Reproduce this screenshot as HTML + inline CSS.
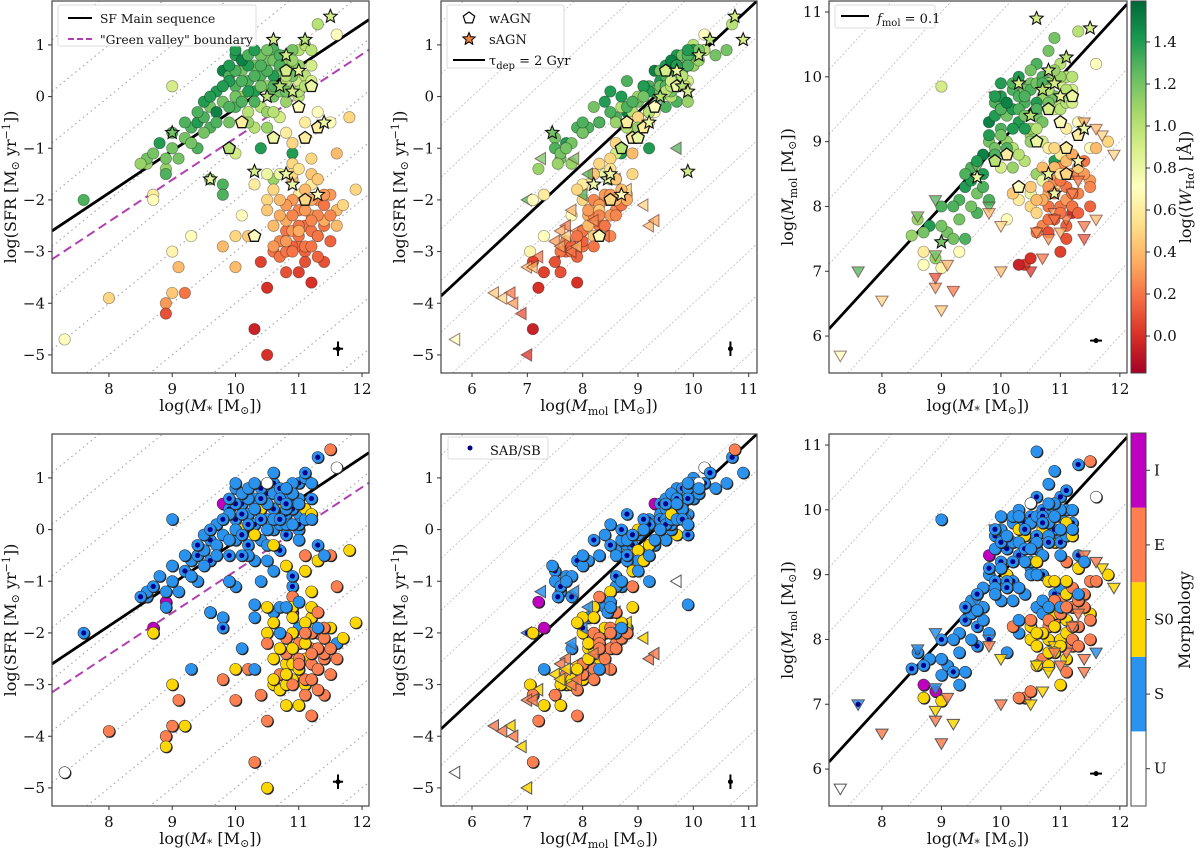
<!DOCTYPE html>
<html><head><meta charset="utf-8"><style>
html,body{margin:0;padding:0;background:#fff;width:1200px;height:849px;overflow:hidden;}
svg{display:block;font-family:"DejaVu Serif","Liberation Serif",serif;overflow:hidden;}
</style></head><body>
<svg id="fig" width="1200" height="849" viewBox="0 0 1200 849"></svg>
<script>
// galaxy sample: [logMstar, logSFR, logMmol, logEW, morph(0U,1S,2S0,3E,4I), type(0 det,1 upper-limit,2 wAGN,3 sAGN), barred]
const galaxies = [
[9.0,-0.7,8.0,1.3,1,0,1],[9.1,-1.2,7.6,1.2,1,0,0],[8.6,-1.3,7.8,1.1,1,0,1],[8.8,-0.9,7.7,1.4,1,0,0],[9.2,-0.8,7.5,1.2,1,0,1],
[9.3,-0.6,8.1,1.3,1,0,0],[9.4,-0.5,8.3,1.4,1,0,1],[9.5,-0.4,8.6,1.3,1,0,0],[9.6,-0.2,8.2,1.2,1,0,1],[9.7,-0.3,8.8,1.5,1,0,0],
[9.8,0.5,9.3,1.5,4,0,0],[9.9,0.4,9.6,1.3,1,0,1],[9.8,-0.1,9.0,1.2,1,0,0],[10.0,0.2,9.2,1.3,1,0,1],[10.0,0.8,9.7,1.4,1,0,0],
[10.1,0.0,9.0,1.1,2,0,0],[10.1,0.5,9.4,1.2,1,0,1],[10.2,0.3,9.8,1.3,1,0,0],[10.2,-0.3,8.9,1.0,1,0,1],[10.3,0.6,9.9,1.2,1,0,0],
[10.3,0.1,9.3,1.4,1,0,1],[10.4,0.4,9.6,1.3,2,0,0],[10.4,-0.2,8.7,1.0,1,0,0],[10.5,0.7,9.9,1.2,1,0,1],[10.5,0.2,9.1,1.1,1,0,0],
[10.6,0.9,10.2,1.3,1,0,1],[10.6,0.0,9.4,1.2,1,0,0],[10.7,0.5,9.7,1.1,2,0,0],[10.7,-0.4,9.0,0.9,1,0,1],[10.8,0.8,10.4,1.2,1,0,0],
[10.8,0.3,9.8,1.0,1,0,1],[10.9,0.6,10.0,1.1,1,0,0],[10.9,0.1,9.5,0.9,2,0,0],[11.0,0.9,10.2,1.0,1,0,1],[11.0,0.3,9.9,0.9,1,0,0],
[11.1,1.0,10.0,1.0,1,0,0],[11.2,0.6,9.8,0.9,1,0,1],[11.3,1.4,10.7,1.0,1,0,1],[9.5,-0.1,8.4,1.4,1,0,0],[9.6,-0.6,7.9,1.3,1,0,1],
[9.7,0.1,8.5,1.4,1,0,0],[9.9,-0.5,8.9,1.2,1,0,1],[10.0,-0.2,9.5,1.3,1,0,0],[10.1,0.3,8.8,1.3,1,0,1],[10.2,0.6,9.5,1.4,1,0,0],
[10.3,-0.1,9.7,1.3,2,0,0],[10.4,0.8,9.8,1.2,1,0,1],[10.5,-0.3,9.2,1.1,1,0,0],[10.6,0.4,9.6,1.4,1,0,1],[10.7,0.1,9.3,1.2,1,0,0],
[10.8,-0.1,9.9,1.1,1,0,1],[10.9,0.9,10.6,1.2,1,0,0],[11.0,0.0,9.6,1.0,1,0,0],[9.0,0.2,9.85,0.9,1,0,0],[9.4,-1.0,7.5,1.3,1,0,0],
[8.9,-1.4,7.2,1.1,4,0,0],[7.6,-2.0,7.0,1.3,1,1,1],[9.8,-1.7,8.1,1.3,1,0,0],[10.4,-1.0,9.2,1.4,1,0,0],[10.9,-1.1,8.7,1.4,1,0,1],
[10.6,-1.6,8.5,1.1,1,0,0],[10.0,-1.1,8.6,0.9,1,0,0],[10.5,-1.5,8.2,0.8,2,0,0],[10.7,-1.5,8.4,0.8,1,0,0],[10.8,-0.7,8.9,0.6,2,0,0],
[10.9,-0.9,8.6,0.5,1,0,1],[11.1,-0.5,9.2,0.6,3,0,0],[11.2,-1.2,8.5,0.5,2,0,0],[11.0,-1.9,8.8,0.6,1,0,0],[11.3,-0.3,9.3,0.7,1,0,1],
[11.5,-0.5,8.9,0.7,3,0,0],[11.6,1.2,10.2,0.7,0,0,0],[11.8,-0.4,9.0,0.5,2,0,0],[10.3,-1.7,8.1,0.6,1,0,0],[10.1,-2.3,7.8,0.7,1,0,0],
[9.3,-2.7,7.3,0.7,1,0,0],[9.0,-3.0,7.05,0.65,2,0,0],[8.7,-1.9,7.3,0.6,4,0,0],[8.7,-2.0,7.1,0.7,2,0,0],[7.3,-4.7,5.7,0.7,0,1,0],
[10.5,-2.0,8.0,0.5,2,0,0],[10.9,-1.3,8.3,0.5,3,0,0],[11.2,-1.7,8.0,0.6,2,0,0],[10.9,-2.0,8.4,0.3,2,0,0],[11.0,-2.2,8.6,0.25,3,0,0],
[11.1,-2.5,8.3,0.2,2,0,0],[11.2,-2.3,8.5,0.3,3,0,0],[11.3,-2.0,8.2,0.25,3,0,0],[11.4,-2.1,8.7,0.2,3,0,0],[11.5,-1.9,8.4,0.3,2,0,0],
[10.8,-2.6,8.0,0.2,2,0,0],[10.7,-2.8,7.7,0.25,3,0,0],[11.0,-2.9,8.0,0.2,2,0,0],[11.1,-3.0,7.7,0.15,2,0,0],[10.6,-3.0,7.6,0.2,2,0,0],
[10.7,-3.1,7.2,0.2,2,1,0],[11.3,-2.7,8.5,0.25,3,0,0],[11.5,-2.8,8.0,0.15,3,0,0],[11.4,-3.2,7.5,0.1,3,1,0],[11.0,-3.4,7.3,0.05,2,0,0],
[10.4,-3.2,7.1,0.05,3,0,0],[10.5,-3.7,7.2,0.0,3,0,0],[11.2,-3.6,7.9,0.0,3,0,0],[10.9,-1.6,8.6,0.4,3,0,0],[11.2,-1.5,8.2,0.45,2,0,0],
[11.6,-1.1,8.9,0.4,3,0,0],[10.8,-2.4,8.2,0.35,3,0,0],[10.2,-2.7,8.2,0.45,3,0,0],[10.0,-3.3,7.0,0.4,3,1,0],[10.3,-4.5,7.1,-0.05,3,0,0],
[10.5,-5.0,7.0,0.0,2,1,0],[9.2,-3.8,6.7,0.2,2,1,0],[8.9,-4.0,6.75,0.3,3,1,0],[8.9,-4.2,6.9,0.1,2,1,0],[9.0,-3.8,6.4,0.45,3,1,0],
[9.1,-3.3,7.1,0.4,3,1,0],[8.0,-3.9,6.55,0.5,3,1,0],[11.4,-2.5,7.7,0.2,3,1,0],[11.6,-2.2,7.8,0.4,1,1,0],[11.9,-1.8,8.8,0.5,2,1,0],
[11.7,-2.1,9.1,0.5,2,1,0],[11.6,-2.5,9.2,0.4,3,1,0],[11.4,-2.4,9.3,0.35,3,1,0],[10.9,-2.6,7.9,0.3,2,1,0],[11.1,-2.9,7.8,0.2,3,1,0],
[9.9,-1.0,9.7,1.3,0,1,0],[8.9,-1.5,8.1,1.3,1,1,0],[8.6,-1.2,7.85,1.2,1,1,0],[8.9,-1.2,7.25,1.2,1,1,0],[9.6,-1.6,8.6,1.2,1,1,0],
[9.8,-1.9,8.0,1.3,1,1,1],[10.3,-2.7,8.3,0.7,1,2,0],[10.8,0.5,9.5,0.9,1,2,1],[11.1,-0.8,8.9,0.6,2,2,0],[11.0,-0.2,9.3,0.7,1,2,0],
[11.1,-2.0,8.5,0.5,3,2,0],[10.6,-0.8,9.0,0.8,1,2,0],[10.1,-0.5,8.8,0.6,1,2,1],[11.3,-0.6,9.1,0.6,2,2,0],[9.9,-1.0,8.7,1.0,1,2,0],
[11.2,0.2,9.7,0.8,1,2,0],[11.5,1.55,10.75,0.9,3,3,0],[10.6,1.1,10.9,0.9,1,3,0],[9.6,-1.6,8.45,0.8,1,3,0],[10.3,-1.45,9.9,0.9,1,3,0],
[10.8,-1.5,8.5,0.8,1,3,0],[10.9,-1.7,8.2,0.8,2,3,0],[11.3,-1.9,8.7,0.7,1,3,0],[11.1,1.1,10.3,1.0,1,3,1],[10.5,0.0,9.4,1.0,1,3,0],
[10.8,0.8,10.1,0.9,1,3,0],[11.0,0.5,9.7,0.8,1,3,0],[10.7,0.2,9.8,1.0,1,3,1],[9.0,-0.7,7.45,1.2,1,3,0],[11.4,-0.5,9.2,0.8,1,3,0],
[10.9,0.1,9.9,0.9,1,3,0],
[9.9,0.3,9.4,1.4,1,0,0],[10.0,0.5,9.5,1.3,1,0,1],[10.1,0.7,9.6,1.5,1,0,0],[10.2,0.1,9.2,1.4,1,0,1],[10.3,0.4,9.5,1.3,1,0,0],
[10.4,0.2,9.4,1.2,1,0,1],[10.5,0.5,9.8,1.3,1,0,0],[10.6,0.7,9.9,1.2,1,0,0],[10.7,0.8,10.0,1.3,1,0,1],[10.8,0.6,9.9,1.1,1,0,0],
[10.9,0.4,9.7,1.2,1,0,1],[11.0,0.6,10.0,1.1,1,0,0],[11.1,0.4,9.8,1.0,2,0,0],[11.2,0.9,10.0,1.0,1,0,0],[9.6,0.0,8.7,1.4,1,0,1],
[9.7,-0.5,8.3,1.3,1,0,0],[9.8,0.2,9.1,1.4,1,0,1],[9.9,-0.2,8.8,1.3,1,0,0],[10.0,0.0,9.1,1.2,1,0,0],[10.1,-0.1,8.9,1.3,1,0,1],
[10.2,0.8,9.9,1.3,1,0,0],[10.3,0.9,10.0,1.4,1,0,0],[10.4,0.6,9.7,1.3,1,0,1],[10.5,0.9,10.1,1.2,0,0,0],[10.6,0.2,9.5,1.3,1,0,0],
[10.7,0.6,9.9,1.3,1,0,1],[10.8,0.1,9.6,1.2,1,0,0],[10.9,0.7,10.1,1.1,1,0,0],[11.0,0.1,9.5,1.0,1,0,1],[11.1,0.2,9.6,1.0,1,0,0],
[9.3,-0.9,7.8,1.2,1,0,0],[9.4,-0.3,8.5,1.3,1,0,1],[9.5,-0.7,8.0,1.2,1,0,0],[9.2,-0.5,8.0,1.3,1,0,0],[8.7,-1.1,7.6,1.2,1,0,1],
[9.0,-1.0,7.7,1.2,1,0,0],[8.5,-1.3,7.55,1.1,1,0,1],[10.5,-0.6,9.0,1.1,1,0,0],[10.6,-0.3,9.2,1.0,2,0,0],[10.3,-0.6,8.8,1.0,1,0,0],
[9.9,0.6,9.7,1.4,1,0,1],[10.0,0.9,9.9,1.4,1,0,0],[10.2,-0.5,8.6,1.1,1,0,0],[10.8,0.4,9.8,1.0,1,0,0],[11.2,0.3,9.6,0.9,2,0,0],
[10.7,-2.3,8.1,0.35,2,0,0],[10.8,-2.1,8.3,0.3,3,0,0],[10.9,-2.3,8.2,0.25,2,0,0],[11.0,-2.5,8.4,0.2,3,0,0],[11.1,-2.2,8.1,0.3,2,0,0],
[11.2,-2.6,8.0,0.2,3,0,0],[11.3,-2.3,8.6,0.25,3,0,0],[11.4,-1.9,8.5,0.3,3,0,0],[11.0,-2.7,7.9,0.2,2,0,0],[10.9,-2.9,7.8,0.15,2,0,0],
[10.8,-3.0,7.8,0.2,2,0,0],[11.2,-2.9,8.2,0.2,3,0,0],[11.3,-3.1,7.9,0.15,3,0,0],[10.6,-2.5,8.1,0.4,2,0,0],[10.5,-2.2,8.3,0.45,3,0,0],
[11.1,-1.8,8.7,0.4,2,0,0],[10.9,-1.5,8.9,0.5,2,0,0],[11.0,-1.4,8.5,0.55,1,0,0],[11.3,-1.6,8.6,0.45,3,0,0],[10.7,-2.0,8.6,0.4,1,0,0],
[11.2,-2.0,8.8,0.35,3,0,0],[10.6,-1.8,7.9,0.5,2,0,0],[11.5,-2.3,8.3,0.25,3,0,0],[11.1,-3.2,7.5,0.1,3,0,0],[10.8,-3.4,7.6,0.1,2,0,0],
[10.8,-2.8,7.5,0.3,2,1,0],[11.0,-2.6,7.6,0.35,3,1,0],[11.2,-2.4,8.2,0.25,3,1,0],[10.6,-2.9,7.6,0.3,2,1,0],[10.9,-3.0,7.8,0.2,3,1,0],
[10.0,-2.7,7.7,0.5,2,1,0],[9.8,-2.9,7.9,0.4,3,1,0],[11.3,-2.7,8.4,0.2,3,1,0]
];
const xTicksMstar = [8,9,10,11,12];
const xTicksMmol = [6,7,8,9,10,11];
const yTicksSFR = [-5,-4,-3,-2,-1,0,1];
const yTicksMmol = [6,7,8,9,10,11];
const cbTicksEW = [0.0,0.2,0.4,0.6,0.8,1.0,1.2,1.4];
const morphNames = ['U','S','S0','E','I'];
const morphColors = ['#ffffff','#2a93f0','#ffd700','#ff7f50','#c000c0'];

const NS='http://www.w3.org/2000/svg';
const svg=document.getElementById('fig');
function el(tag,attrs,parent){const e=document.createElementNS(NS,tag);for(const k in attrs)e.setAttribute(k,attrs[k]);(parent||svg).appendChild(e);return e;}

const cm=[[0,[165,0,38]],[0.1,[215,48,39]],[0.2,[244,109,67]],[0.3,[253,174,97]],[0.4,[254,224,139]],[0.5,[255,255,191]],[0.6,[217,239,139]],[0.7,[166,217,106]],[0.8,[102,189,99]],[0.9,[26,152,80]],[1,[0,104,55]]];
const EWMIN=-0.176,EWMAX=1.595;
function rdylgn(v){let t=(v-EWMIN)/(EWMAX-EWMIN);t=Math.max(0,Math.min(1,t));for(let i=1;i<cm.length;i++){if(t<=cm[i][0]){const a=cm[i-1],b=cm[i];const f=(t-a[0])/(b[0]-a[0]);const c=a[1].map((q,j)=>Math.round(q+(b[1][j]-q)*f));return 'rgb('+c.join(',')+')';}}return 'rgb(0,104,55)';}

function makePanel(name,px0,px1,py0,py1,xmin,xmax,ymin,ymax){
  const g=el('g',{});
  
  
  const sx=v=>px0+(v-xmin)/(xmax-xmin)*(px1-px0);
  const sy=v=>py1-(v-ymin)/(ymax-ymin)*(py1-py0);
  const cid='clip-'+name;
  const cp=el('clipPath',{id:cid},g);el('rect',{x:px0,y:py0,width:px1-px0,height:py1-py0},cp);
  const plot=el('g',{'clip-path':'url(#'+cid+')'},g);
  return {g,plot,sx,sy,px0,px1,py0,py1,xmin,xmax,ymin,ymax};
}
function diagLines(P,dotted){
  for(let c=Math.floor(P.ymin-P.xmax)-1;c<=Math.ceil(P.ymax-P.xmin)+1;c++){
    const l=el('line',{x1:P.sx(P.xmin),y1:P.sy(P.xmin+c),x2:P.sx(P.xmax),y2:P.sy(P.xmax+c),stroke:dotted?'#aaa':'#bbb','stroke-width':dotted?1.2:0.8,'stroke-dasharray':dotted?'1.5,3.5':'2,2'},P.plot);
    
    
  }
}
function axes(P,xt,yt,xlabel,ylabel,ylx){
  const f=el('rect',{x:P.px0,y:P.py0,width:P.px1-P.px0,height:P.py1-P.py0,fill:'none',stroke:'#444','stroke-width':1.2},P.g);
  
  xt.forEach(v=>{const x=P.sx(v);el('line',{x1:x,x2:x,y1:P.py1,y2:P.py1+4,stroke:'#333'},P.g);
    const t=el('text',{x:x,y:P.py1+21,'text-anchor':'middle','font-size':15,fill:'#111'},P.g);t.textContent=v;
    });
  yt.forEach(v=>{const y=P.sy(v);el('line',{x1:P.px0-4,x2:P.px0,y1:y,y2:y,stroke:'#333'},P.g);
    const t=el('text',{x:P.px0-7,y:y+5,'text-anchor':'end','font-size':15,fill:'#111'},P.g);t.textContent=v<0?'\u2212'+(-v):v;
    });
  const xl=el('text',{x:(P.px0+P.px1)/2,y:P.py1+38,'text-anchor':'middle','font-size':16,fill:'#111'},P.g);xl.innerHTML=xlabel;
  
  const cy=(P.py0+P.py1)/2;
  const yl=el('text',{x:ylx,y:cy,'text-anchor':'middle','font-size':16,fill:'#111',transform:'rotate(-90 '+ylx+' '+cy+')'},P.g);yl.innerHTML=ylabel;
  
}
function pentagon(cx,cy,r){let p=[];for(let i=0;i<5;i++){const a=-Math.PI/2+i*2*Math.PI/5;p.push((cx+r*Math.cos(a)).toFixed(1)+','+(cy+r*Math.sin(a)).toFixed(1));}return p.join(' ');}
function star(cx,cy,r){let p=[];for(let i=0;i<10;i++){const a=-Math.PI/2+i*Math.PI/5;const rr=i%2?r*0.45:r;p.push((cx+rr*Math.cos(a)).toFixed(1)+','+(cy+rr*Math.sin(a)).toFixed(1));}return p.join(' ');}
function tri(cx,cy,r,dir){if(dir==='down')return (cx-r)+','+(cy-r*0.7)+' '+(cx+r)+','+(cy-r*0.7)+' '+cx+','+(cy+r);
  return (cx+r*0.7)+','+(cy-r)+' '+(cx+r*0.7)+','+(cy+r)+' '+(cx-r)+','+cy;}

function drawPoints(P,xi,yi,mode,ulDir,showUL){
  const order=galaxies.slice().sort((a,b)=>(a[5]>=2)-(b[5]>=2));
  order.forEach(d=>{
    const x=P.sx(d[xi]),y=P.sy(d[yi]);
    const col=mode==='ew'?rdylgn(d[3]):morphColors[d[4]];
    let m;
    const isUL=d[5]===1&&showUL;
    if(isUL){
      m=el('polygon',{points:tri(x,y,6.2,ulDir),fill:col,stroke:mode==='ew'?'rgba(90,40,40,0.6)':'#555','stroke-width':1,'fill-opacity':mode==='ew'?0.75:0.85},P.plot);
      
    } else if(mode==='ew'&&d[5]===2){
      m=el('polygon',{points:pentagon(x,y,6.5),fill:col,stroke:'#111','stroke-width':1.3},P.plot);
      
    } else if(mode==='ew'&&d[5]===3){
      m=el('polygon',{points:star(x,y,7),fill:col,stroke:'#111','stroke-width':1.1},P.plot);
      
    } else {
      if(mode==='morph')el('circle',{cx:x+0.8,cy:y+0.8,r:6,fill:'#222'},P.plot);
      m=el('circle',{cx:x,cy:y,r:5.7,fill:col,stroke:mode==='ew'?'rgba(0,0,0,0.35)':'#333','stroke-width':mode==='ew'?0.8:0.6},P.plot);
      
    }
    
    if(mode==='morph'&&d[6]){const b=el('circle',{cx:x,cy:y,r:2.6,fill:'#00008b'},P.plot);
      }
  });
}
function fnLine(P,f,attrs,name){
  const l=el('line',Object.assign({x1:P.sx(P.xmin),y1:P.sy(f(P.xmin)),x2:P.sx(P.xmax),y2:P.sy(f(P.xmax))},attrs),P.plot);
  
}
function errBar(P,x,y,ex,ey){
  const g=el('g',{},P.plot);
  if(ex)el('line',{x1:P.sx(x-ex),x2:P.sx(x+ex),y1:P.sy(y),y2:P.sy(y),stroke:'#000','stroke-width':2},g);
  if(ey)el('line',{x1:P.sx(x),x2:P.sx(x),y1:P.sy(y-ey),y2:P.sy(y+ey),stroke:'#000','stroke-width':2},g);
  el('circle',{cx:P.sx(x),cy:P.sy(y),r:2.5,fill:'#000'},g);
}
function legend(P,x,y,w,h,items,fs){
  const g=el('g',{},P.g);
  el('rect',{x,y,width:w,height:h,fill:'#fff','fill-opacity':0.9,stroke:'#ddd',rx:2},g);
  items.forEach((it,i)=>{const yy=y+13+i*21;
    const e=el('g',{},g);
    it.sym(e,x+22,yy);
    const t=el('text',{x:x+42,y:yy+5,'font-size':fs||13,fill:'#111'},e);t.innerHTML=it.label;});
}
const MS=x=>-2.6+(x-7.1)*0.816;
const GV=x=>-3.15+(x-7.1)*0.81;
const xlM='log(<tspan font-style="italic">M</tspan><tspan font-size="11" dy="3">*</tspan><tspan dy="-3"> [M</tspan><tspan font-size="11" dy="3">⊙</tspan><tspan dy="-3">])</tspan>';
const xlMol='log(<tspan font-style="italic">M</tspan><tspan font-size="11" dy="4">mol</tspan><tspan dy="-4"> [M</tspan><tspan font-size="11" dy="3">⊙</tspan><tspan dy="-3">])</tspan>';
const ylSFR='log(SFR [M<tspan font-size="11" dy="3">⊙</tspan><tspan dy="-3"> yr</tspan><tspan font-size="11" dy="-6">−1</tspan><tspan dy="6">])</tspan>';

[0,1].forEach(row=>{
  const off=row*433;const mode=row?'morph':'ew';
  const P1=makePanel(row?'sfr-vs-mstar-morph':'sfr-vs-mstar-ew',52,369,1+off,373+off,7.1,12.11,-5.35,1.85);
  diagLines(P1,true);
  fnLine(P1,MS,{stroke:'#000','stroke-width':2.8},'main-sequence-line');
  fnLine(P1,GV,{stroke:'#b040b0','stroke-width':2,'stroke-dasharray':'9,5'},'green-valley-line');
  drawPoints(P1,0,1,mode,'left',false);
  errBar(P1,11.62,-4.88,0.08,0.14);
  axes(P1,xTicksMstar,yTicksSFR,xlM,ylSFR,16);
  if(!row)legend(P1,58,5,198,41,[
    {sym:(g,x,y)=>el('line',{x1:x-12,x2:x+12,y1:y,y2:y,stroke:'#000','stroke-width':2},g),label:'SF Main sequence'},
    {sym:(g,x,y)=>el('line',{x1:x-12,x2:x+12,y1:y,y2:y,stroke:'#b040b0','stroke-width':2,'stroke-dasharray':'6,3'},g),label:'"Green valley" boundary'}],12.3);
  const P2=makePanel(row?'sfr-vs-mmol-morph':'sfr-vs-mmol-ew',441,757,1+off,373+off,5.44,11.15,-5.35,1.85);
  diagLines(P2,false);
  fnLine(P2,x=>x-9.3,{stroke:'#000','stroke-width':2.8},'depletion-time-line');
  drawPoints(P2,2,1,mode,'left',true);
  errBar(P2,10.67,-4.88,0,0.14);
  axes(P2,xTicksMmol,yTicksSFR,xlMol,ylSFR,405);
  if(!row)legend(P2,447,5,117,63,[
    {sym:(g,x,y)=>el('polygon',{points:pentagon(x,y,6),fill:'#fff',stroke:'#000','stroke-width':1.2},g),label:'wAGN'},
    {sym:(g,x,y)=>el('polygon',{points:star(x,y,6.5),fill:'#f08040',stroke:'#000','stroke-width':1},g),label:'sAGN'},
    {sym:(g,x,y)=>el('line',{x1:x-16,x2:x+16,y1:y,y2:y,stroke:'#000','stroke-width':2},g),label:'τ<tspan font-size="10" dy="4">dep</tspan><tspan dy="-4"> = 2 Gyr</tspan>'}]);
  else legend(P2,448,437,100,22,[
    {sym:(g,x,y)=>el('circle',{cx:x,cy:y-2,r:2.5,fill:'#00008b'},g),label:'SAB/SB'}]);
  const P3=makePanel(row?'mmol-vs-mstar-morph':'mmol-vs-mstar-ew',829,1127,1+off,373+off,7.11,12.12,5.43,11.17);
  diagLines(P3,false);
  fnLine(P3,x=>x-1,{stroke:'#000','stroke-width':2.8},'fmol-line');
  drawPoints(P3,0,2,mode,'down',true);
  errBar(P3,11.6,5.93,0.1,0);
  axes(P3,xTicksMstar,yTicksMmol,xlM,xlMol,793);
  if(!row)legend(P3,835,5,100,23,[
    {sym:(g,x,y)=>el('line',{x1:x-16,x2:x+12,y1:y-2,y2:y-2,stroke:'#000','stroke-width':2},g),label:'<tspan font-style="italic">f</tspan><tspan font-size="10" dy="3">mol</tspan><tspan dy="-3"> = 0.1</tspan>'}]);
});

(function(){
  const g=el('g',{});
  const x0=1131,w=15,y0=1,y1=373;
  const grad=el('linearGradient',{id:'gEW',x1:0,y1:1,x2:0,y2:0},g);
  cm.forEach(s=>el('stop',{offset:s[0],'stop-color':'rgb('+s[1].join(',')+')'},grad));
  el('rect',{x:x0,y:y0,width:w,height:y1-y0,fill:'url(#gEW)',stroke:'#444','stroke-width':1},g);
  const sy=v=>y1-(v-EWMIN)/(EWMAX-EWMIN)*(y1-y0);
  cbTicksEW.forEach(v=>{const y=sy(v);el('line',{x1:x0+w,x2:x0+w+4,y1:y,y2:y,stroke:'#333'},g);
    const t=el('text',{x:x0+w+7,y:y+5,'font-size':15,fill:'#111'},g);t.textContent=v.toFixed(1);
    });
  const t=el('text',{x:1191,y:187,'text-anchor':'middle','font-size':16,fill:'#111',transform:'rotate(-90 1191 187)'},g);
  t.innerHTML='log(⟨<tspan font-style="italic">W</tspan><tspan font-size="11" dy="3">Hα</tspan><tspan dy="-3">⟩ [Å])</tspan>';
  
})();
(function(){
  const g=el('g',{});
  const x0=1131,w=15,y0=433,y1=806,n=morphNames.length,h=(y1-y0)/n;
  [0,1,2,3,4].forEach((k,i)=>{const yb=y1-(i+1)*h;
    el('rect',{x:x0,y:yb,width:w,height:h,fill:morphColors[k]},g);
    el('line',{x1:x0+w,x2:x0+w+4,y1:yb+h/2,y2:yb+h/2,stroke:'#333'},g);
    const t=el('text',{x:x0+w+8,y:yb+h/2+5,'font-size':15,fill:'#111'},g);t.textContent=morphNames[k];
    });
  el('rect',{x:x0,y:y0,width:w,height:y1-y0,fill:'none',stroke:'#444','stroke-width':1},g);
  const t=el('text',{x:1190,y:620,'text-anchor':'middle','font-size':16,fill:'#111',transform:'rotate(-90 1190 620)'},g);
  t.textContent='Morphology';
})();
</script>
</body></html>
